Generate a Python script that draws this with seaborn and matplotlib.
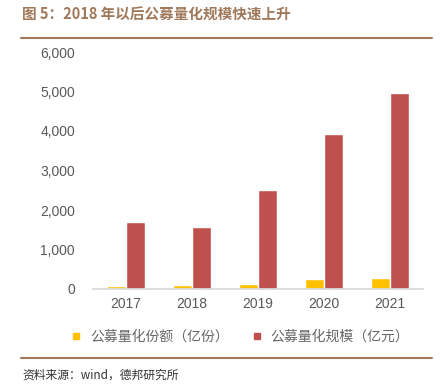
import numpy as np
import matplotlib
matplotlib.use("Agg")
import matplotlib.pyplot as plt
import seaborn as sns
import pandas as pd
from matplotlib.ticker import FuncFormatter
from matplotlib.lines import Line2D

# 数据
years = ["2017", "2018", "2019", "2020", "2021"]
fen_e = [70, 100, 128, 253, 280]          # 公募量化份额（亿份）
gui_mo = [1700, 1570, 2510, 3920, 4960]   # 公募量化规模（亿元）
s1 = "公募量化份额（亿份）"
s2 = "公募量化规模（亿元）"

sns.set_theme(style="white")
plt.rcParams['font.family'] = ['Noto Sans CJK SC', 'DejaVu Sans']

df = pd.DataFrame({"年份": years * 2,
                   "值": fen_e + gui_mo,
                   "系列": [s1] * 5 + [s2] * 5})

fig = plt.figure(figsize=(4.45, 3.85), dpi=100)
ax = fig.add_axes([93 / 445, 1 - 289 / 385, 330 / 445, (289 - 52) / 385])

sns.barplot(data=df, x="年份", y="值", hue="系列", ax=ax,
            palette=["#FFC000", "#C0504D"], width=0.58, saturation=1,
            legend=False)

ax.set_ylim(0, 6000)
ax.set_yticks(range(0, 6001, 1000))
ax.yaxis.set_major_formatter(FuncFormatter(lambda v, p: f"{int(v):,}"))
ax.set_xlabel("")
ax.set_ylabel("")
for s in ["top", "right", "left"]:
    ax.spines[s].set_visible(False)
ax.spines["bottom"].set_color("#d9d9d9")
ax.tick_params(axis="both", labelsize=10, colors="#595959", length=0)
ax.tick_params(axis="y", pad=13)
ax.tick_params(axis="x", pad=6)
for lab in ax.get_xticklabels() + ax.get_yticklabels():
    lab.set_family(["Liberation Sans", "DejaVu Sans"])

# 图例
handles = [Line2D([], [], marker="s", ls="", color="#FFC000", markersize=5),
           Line2D([], [], marker="s", ls="", color="#C0504D", markersize=5)]
fig.legend(handles, [s1, s2], loc="center", bbox_to_anchor=(0.53, 1 - 337 / 385),
           ncol=2, frameon=False, fontsize=10, handletextpad=0.0,
           columnspacing=1.0, labelcolor="#666666")

# 标题和来源
brown = "#a0785a"
fig.text(22 / 445, 1 - 15 / 385, "图 5：2018 年以后公募量化规模快速上升",
         fontsize=10.5, fontweight="bold", color=brown, va="center")
fig.add_artist(Line2D([21 / 445, 432 / 445], [1 - 38 / 385] * 2,
                      color=brown, lw=1.5))
fig.add_artist(Line2D([21 / 445, 432 / 445], [1 - 358 / 385] * 2,
                      color=brown, lw=1.5))
fig.text(22 / 445, 1 - 375 / 385, "资料来源：wind，德邦研究所",
         fontsize=8.5, color="#333333", va="center")

fig.savefig("out.png", dpi=100)
